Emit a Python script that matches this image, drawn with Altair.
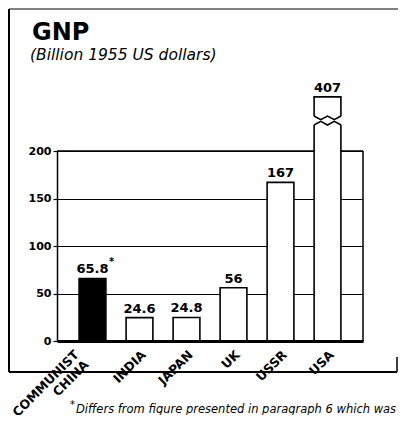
import altair as alt
import pandas as pd

# ---- data ----
countries = ["COMMUNIST CHINA", "INDIA", "JAPAN", "UK", "USSR", "USA"]
gnp = [65.8, 24.6, 24.8, 56, 167, 407]
value_labels = ["65.8", "24.6", "24.8", "56", "167", "407"]
notes = ["*", "", "", "", "", ""]
bar_fills = ["black", "white", "white", "white", "white", "white"]
y_ticks = [0, 50, 100, 150, 200]

# broken-axis display: the USA bar is drawn shortened with a break symbol
drawn_cap = 257
break_low, break_high = 227.4, 236.8

title_text = "GNP"
subtitle_text = "(Billion 1955 US dollars)"
footnote_text = "Differs from figure presented in paragraph 6 which was"

df = pd.DataFrame({
    "country": countries,
    "gnp": gnp,
    "drawn": [min(v, drawn_cap) for v in gnp],
    "label": value_labels,
    "note": notes,
    "fill": bar_fills,
})
broken = df[df["gnp"] > drawn_cap].copy()
broken["lo"] = break_low
broken["hi"] = break_high

FONT = "DejaVu Sans"
PW, PH = 306, 190

x_enc = alt.X(
    "country:N",
    sort=countries,
    scale=alt.Scale(paddingInner=0.43, paddingOuter=0.47),
    axis=alt.Axis(
        title=None,
        labelAngle=315,
        labelAlign="right",
        labelBaseline="top",
        labelPadding=7,
        labelOffset={"condition": {"test": "datum.value == 'COMMUNIST CHINA'", "value": -20}, "value": 0},
        labelFont=FONT,
        labelFontSize=12.5,
        labelFontWeight="bold",
        labelColor="black",
        labelExpr="datum.label == 'COMMUNIST CHINA' ? ['COMMUNIST\u00a0\u00a0', 'CHINA'] : datum.label",
        labelLineHeight=14,
        labelOverlap=False,
        labelBound=False,
        labelLimit=0,
        ticks=False,
        domainColor="black",
        domainWidth=3,
        zindex=1,
    ),
)
y_scale = alt.Scale(domain=[0, 200], nice=False)
y_axis = alt.Axis(
    title=None,
    values=y_ticks,
    labelFont=FONT,
    labelFontSize=11,
    labelFontWeight="bold",
    labelColor="black",
    labelPadding=2,
    tickSize=4,
    tickColor="black",
    tickWidth=1.2,
    domainColor="black",
    domainWidth=1.5,
    grid=True,
    gridColor="black",
    gridWidth=1,
    zindex=0,
)

one = pd.DataFrame({"t": [title_text], "s": [subtitle_text], "f": [footnote_text], "a": ["*"]})

# plot frame (top and right), drawn beneath the bars
plot_top = alt.Chart(one).mark_rule(color="black", strokeWidth=1.5).encode(
    x=alt.value(0), x2=alt.value(PW), y=alt.value(0))
plot_right = alt.Chart(one).mark_rule(color="black", strokeWidth=1.5).encode(
    x=alt.value(PW), y=alt.value(0), y2=alt.value(PH))

bars = alt.Chart(df).mark_bar(stroke="black", strokeWidth=1.6).encode(
    x=x_enc,
    y=alt.Y("drawn:Q", scale=y_scale, axis=y_axis),
    fill=alt.Fill("fill:N", scale=None),
)

value_text = alt.Chart(df).mark_text(
    font=FONT, fontSize=13, fontWeight="bold", baseline="alphabetic", dy=-5, color="black"
).encode(x=alt.X("country:N", sort=countries), y="drawn:Q", text="label:N")

note_text = alt.Chart(df).mark_text(
    font=FONT, fontSize=10, fontWeight="bold", baseline="alphabetic", dx=19, dy=-13, color="black"
).encode(x=alt.X("country:N", sort=countries), y="drawn:Q", text="note:N")

cover = alt.Chart(broken).mark_bar(width=34, fill="white", strokeWidth=0).encode(
    x=alt.X("country:N", sort=countries), y="lo:Q", y2="hi:Q"
)
zig_upper = alt.Chart(broken).mark_point(
    shape="M -1 0 L -0.5 0.27 L 0 0 L 0.5 0.27 L 1 0",
    size=730, filled=False, stroke="black", strokeWidth=1.6, opacity=1,
).encode(x=alt.X("country:N", sort=countries), y="hi:Q")
zig_lower = alt.Chart(broken).mark_point(
    shape="M -1 0 L -0.5 -0.27 L 0 0 L 0.5 -0.27 L 1 0",
    size=730, filled=False, stroke="black", strokeWidth=1.6, opacity=1,
).encode(x=alt.X("country:N", sort=countries), y="lo:Q")

title = alt.Chart(one).mark_text(
    font=FONT, fontSize=24, fontWeight="bold", align="left", baseline="alphabetic", color="black"
).encode(x=alt.value(-25), y=alt.value(-111), text="t:N")
subtitle = alt.Chart(one).mark_text(
    font=FONT, fontSize=15.5, fontStyle="italic", align="left", baseline="alphabetic", color="black"
).encode(x=alt.value(-27), y=alt.value(-91), text="s:N")
footnote = alt.Chart(one).mark_text(
    font=FONT, fontSize=11.5, fontStyle="italic", align="left", baseline="alphabetic", color="black"
).encode(x=alt.value(19), y=alt.value(262), text="f:N")
foot_star = alt.Chart(one).mark_text(
    font=FONT, fontSize=10, align="left", baseline="alphabetic", color="black"
).encode(x=alt.value(13), y=alt.value(257), text="a:N")

# outer frame of the figure
frame_left = alt.Chart(one).mark_rule(color="black", strokeWidth=2).encode(
    x=alt.value(-48), y=alt.value(-142), y2=alt.value(221))
frame_bottom = alt.Chart(one).mark_rule(color="black", strokeWidth=2).encode(
    x=alt.value(-48), x2=alt.value(340), y=alt.value(221))
frame_top = alt.Chart(one).mark_rule(color="black", strokeWidth=1).encode(
    x=alt.value(-48), x2=alt.value(341), y=alt.value(-142))
frame_right = alt.Chart(one).mark_rule(color="black", strokeWidth=1.5).encode(
    x=alt.value(340), y=alt.value(206), y2=alt.value(221))

chart = alt.layer(
    frame_left, frame_bottom, frame_top, frame_right, plot_top, plot_right,
    bars, cover, zig_upper, zig_lower, value_text, note_text,
    title, subtitle, footnote, foot_star,
).properties(
    width=PW,
    height=PH,
    autosize=alt.AutoSizeParams(type="none"),
    padding={"left": 49, "top": 143, "right": 35, "bottom": 74},
    background="white",
).configure_view(
    strokeWidth=0
)

chart.save("out.html", embed_options={"renderer": "svg", "actions": False})
